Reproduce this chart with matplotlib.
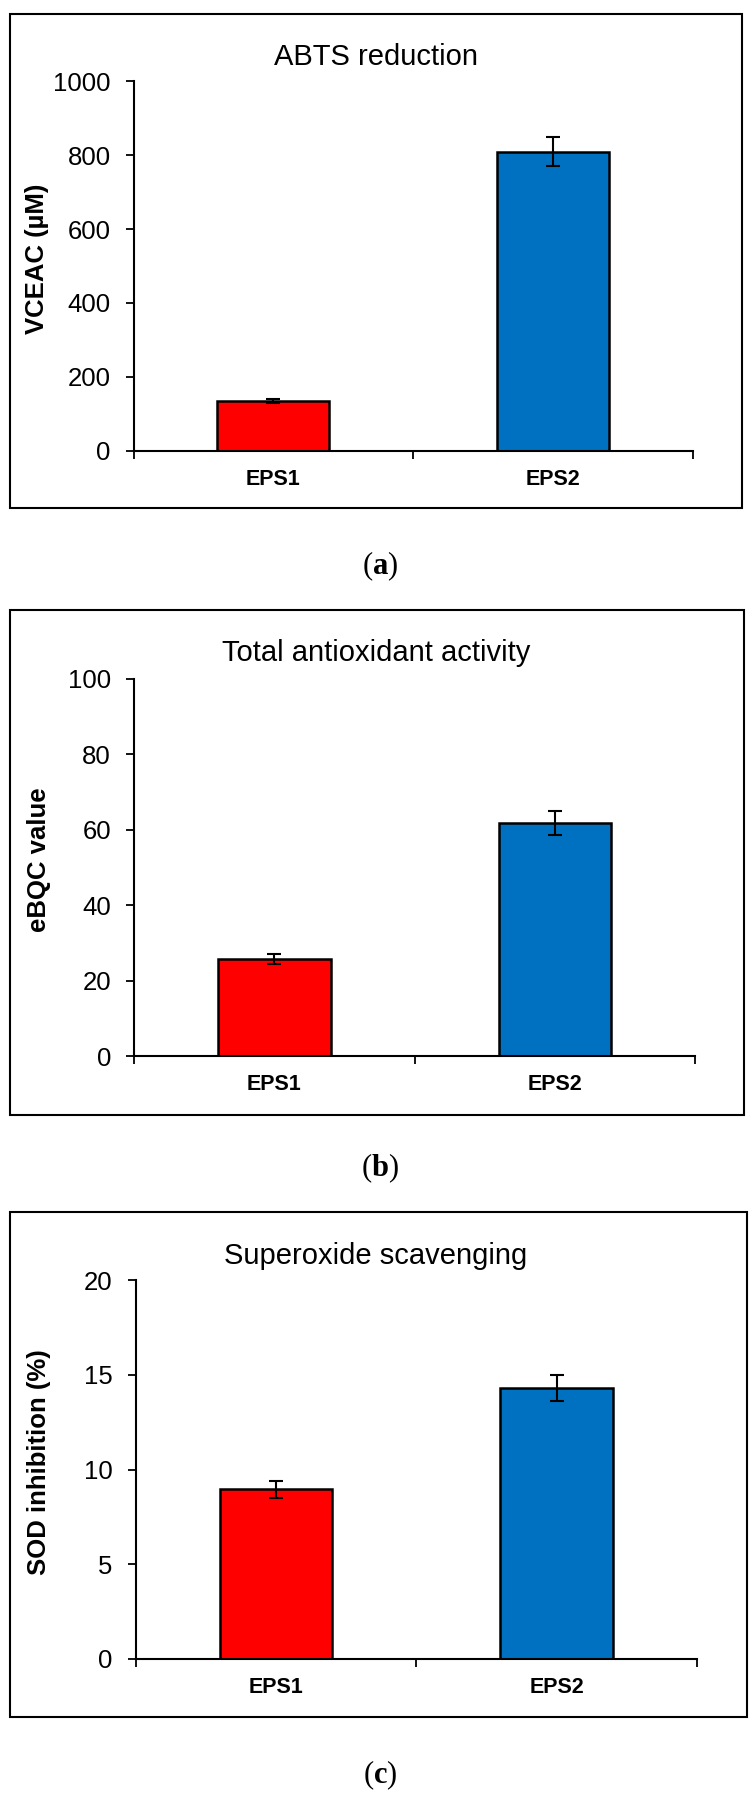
import matplotlib
matplotlib.use("Agg")
import matplotlib.pyplot as plt
from matplotlib.patches import Rectangle
import numpy as np

plt.rcParams["font.family"] = ["Liberation Sans", "DejaVu Sans"]
plt.rcParams["mathtext.fontset"] = "custom"
plt.rcParams["mathtext.rm"] = "Liberation Serif"
plt.rcParams["mathtext.bf"] = "Liberation Serif:bold"

# data
samples = ["EPS1", "EPS2"]
bar_colors = ["#FF0000", "#0070C0"]

abts_vals = [135, 810]
abts_err = [5, 40]

tac_vals = [25.7, 61.7]
tac_err = [1.3, 3.1]

sod_vals = [8.95, 14.3]
sod_err = [0.45, 0.7]

titles = ["ABTS reduction", "Total antioxidant activity", "Superoxide scavenging"]
ylabels = ["VCEAC (µM)", "eBQC value", "SOD inhibition (%)"]
ymaxes = [1000, 100, 20]
ysteps = [200, 20, 5]
panel_tags = ["a", "b", "c"]

# layout in pixels (figure is 756 x 1803)
W, H = 756, 1803
axes_px = [(133.5, 81.4, 693.0, 450.7),
           (134.0, 678.6, 695.5, 1056.0),
           (135.5, 1280.0, 697.0, 1659.0)]
frames_px = [(10, 14, 742, 508),
             (10, 610, 744, 1115),
             (10, 1212, 747, 1717)]
title_y = [57, 653, 1256]
tag_y = [566, 1168, 1775]
ylabel_x = [37.5, 39, 39]

fig = plt.figure(figsize=(W / 100, H / 100), dpi=100)

all_vals = [abts_vals, tac_vals, sod_vals]
all_err = [abts_err, tac_err, sod_err]

for i in range(3):
    x0, y0, x1, y1 = axes_px[i]
    ax = fig.add_axes([x0 / W, 1 - y1 / H, (x1 - x0) / W, (y1 - y0) / H])
    pos = np.arange(len(samples)) + 0.5
    ax.bar(pos, all_vals[i], width=0.4, color=bar_colors,
           edgecolor="black", linewidth=1.8, zorder=2)
    ax.errorbar(pos, all_vals[i], yerr=all_err[i], fmt="none",
                ecolor="black", elinewidth=1.5, capsize=5, capthick=1.5, zorder=3)
    ax.set_xlim(0, len(samples))
    ax.set_ylim(0, ymaxes[i])
    ax.set_yticks(np.arange(0, ymaxes[i] + 1, ysteps[i]))
    ax.tick_params(axis="y", direction="out", length=5.5, width=1.3,
                   labelsize=18.5, pad=11)
    ax.set_xticks([0, 1, 2])
    ax.set_xticklabels([])
    ax.set_xticks(pos, minor=True)
    ax.set_xticklabels(samples, minor=True, fontsize=15.5, fontweight="bold")
    ax.tick_params(axis="x", which="major", direction="out", length=5.8, width=1.3)
    ax.tick_params(axis="x", which="minor", length=0, pad=13)
    for s in ["top", "right"]:
        ax.spines[s].set_visible(False)
    for s in ["left", "bottom"]:
        ax.spines[s].set_linewidth(1.5)
    ax.set_ylabel(ylabels[i], fontsize=18.5, fontweight="bold", va="center")
    ax.yaxis.set_label_coords((ylabel_x[i] - x0) / (x1 - x0), 0.52)

    fig.text(376 / W, 1 - title_y[i] / H, titles[i], fontsize=21,
             ha="center", va="center")
    fig.text(380 / W, 1 - tag_y[i] / H, r"$(\mathbf{%s})$" % panel_tags[i],
             fontsize=22, ha="center", va="center")

    fx0, fy0, fx1, fy1 = frames_px[i]
    fig.patches.append(Rectangle((fx0 / W, 1 - fy1 / H), (fx1 - fx0) / W,
                                 (fy1 - fy0) / H, transform=fig.transFigure,
                                 fill=False, edgecolor="black", linewidth=1.5))

fig.savefig("out.png", dpi=100)
